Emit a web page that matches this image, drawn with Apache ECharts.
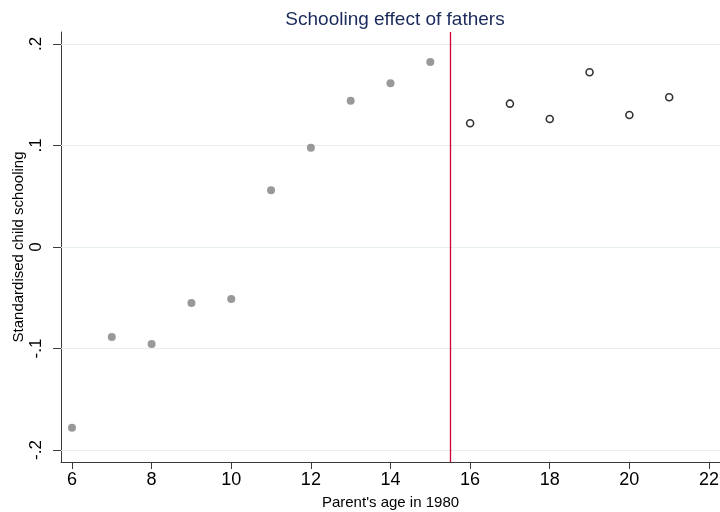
<!DOCTYPE html>
<html>
<head>
<meta charset="utf-8">
<script src="https://cdn.jsdelivr.net/npm/echarts@6/dist/echarts.min.js"></script>
<style>html,body{margin:0;padding:0;background:#fff}#c{width:720px;height:512px}</style>
</head>
<body>
<div id="c"></div>
<script>
var agesBefore = [6, 7, 8, 9, 10, 11, 12, 13, 14, 15];
var valuesBefore = [-0.178, -0.0887, -0.0956, -0.0552, -0.0512, 0.0559, 0.0978, 0.1441, 0.1613, 0.1823];
var agesAfter = [16, 17, 18, 19, 20, 21];
var valuesAfter = [0.1219, 0.1412, 0.1261, 0.1721, 0.130, 0.1475];
var xTicks = [6, 8, 10, 12, 14, 16, 18, 20, 22];
var yTicks = [-0.2, -0.1, 0, 0.1, 0.2];
var cutoff = 15.5;
var titleText = 'Schooling effect of fathers';
var xTitle = "Parent's age in 1980";
var yTitle = 'Standardised child schooling';

function stataFmt(v) {
  var r = Math.round(v * 10) / 10;
  if (r === 0) return '0';
  var s = String(r);
  return s.replace('0.', '.');
}

var font = '"Liberation Sans", Arial, sans-serif';
var chart = echarts.init(document.getElementById('c'), null, {renderer: 'canvas'});
chart.setOption({
  animation: false,
  backgroundColor: '#ffffff',
  title: {
    text: titleText,
    left: 390, top: 5, textAlign: 'center',
    textStyle: {fontFamily: font, fontSize: 19, fontWeight: 'normal', color: '#1a2a5a'}
  },
  grid: {left: 61, right: 0, top: 32, bottom: 50, containLabel: false, outerBoundsMode: 'none'},
  xAxis: {
    type: 'value', min: 5.7236, max: 22.2764,
    name: xTitle, nameLocation: 'middle', nameGap: 33,
    nameTextStyle: {fontFamily: font, fontSize: 15, color: '#000'},
    axisLine: {show: true, onZero: false, lineStyle: {color: '#3a3a3a', width: 1}},
    axisTick: {show: true, customValues: xTicks, length: 7, lineStyle: {color: '#3a3a3a'}},
    axisLabel: {customValues: xTicks, fontFamily: font, fontSize: 18, color: '#000', margin: 9},
    splitLine: {show: false}
  },
  yAxis: {
    type: 'value', min: -0.2118, max: 0.2118,
    name: yTitle, nameLocation: 'middle', nameGap: 35, nameRotate: 90, nameMoveOverlap: false,
    nameTextStyle: {fontFamily: font, fontSize: 15, color: '#000'},
    axisLine: {show: true, onZero: false, lineStyle: {color: '#3a3a3a', width: 1}},
    axisTick: {show: true, customValues: yTicks, length: 8, lineStyle: {color: '#3a3a3a'}},
    axisLabel: {customValues: yTicks, rotate: 90, formatter: stataFmt, fontFamily: font, fontSize: 17, color: '#000', margin: 16},
    splitLine: {show: false}
  },
  series: [
    {
      type: 'scatter',
      data: agesBefore.map(function (a, i) { return [a, valuesBefore[i]]; }),
      symbol: 'circle', symbolSize: 8,
      itemStyle: {color: '#7f7f7f'},
      z: 3,
      markLine: {
        silent: true, symbol: ['none', 'none'], label: {show: false},
        lineStyle: {color: '#e6eef1', width: 1, type: 'solid'},
        data: yTicks.map(function (t) { return {yAxis: t}; }),
        z: 1
      }
    },
    {
      type: 'scatter',
      data: agesAfter.map(function (a, i) { return [a, valuesAfter[i]]; }),
      symbol: 'circle', symbolSize: 7,
      itemStyle: {color: '#ffffff', borderColor: '#000000', borderWidth: 1.6},
      z: 3,
      markLine: {
        silent: true, symbol: ['none', 'none'], label: {show: false},
        lineStyle: {color: '#cc0033', width: 1.3, type: 'solid'},
        data: [{xAxis: cutoff}],
        z: 2
      }
    }
  ]
});
</script>
</body>
</html>
